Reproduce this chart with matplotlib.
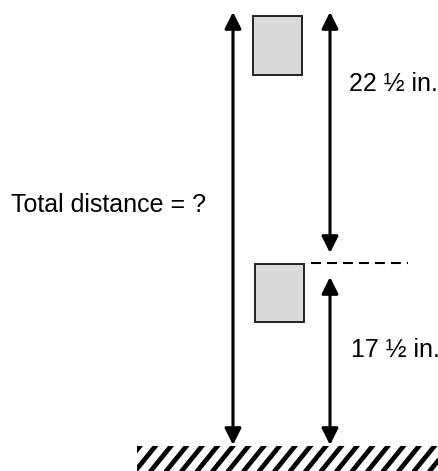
import matplotlib
matplotlib.use("Agg")
import matplotlib.pyplot as plt
import numpy as np
from matplotlib.patches import Rectangle, FancyArrowPatch

# Diagram content
labels = ["22 \u00bd in.", "17 \u00bd in.", "Total distance = ?"]
distances_in = [22.5, 17.5]

# Layout (pixel-like coordinates, y downward)
W, H = 439, 471
top_y = 12
mid_y = 263
ground_y = 446
left_x = 233
right_x = 330

plt.rcParams['font.family'] = ['Liberation Sans', 'DejaVu Sans']
plt.rcParams['lines.scale_dashes'] = False

fig = plt.figure(figsize=(W / 100, H / 100), dpi=100)
ax = fig.add_axes([0, 0, 1, 1])
ax.set_xlim(0, W)
ax.set_ylim(H, 0)
ax.axis('off')

def arrow(x0, y0, x1, y1, style):
    a = FancyArrowPatch((x0, y0), (x1, y1),
                        arrowstyle=style + ",head_length=1.0,head_width=0.5",
                        mutation_scale=10, lw=2.2, color='black',
                        shrinkA=0, shrinkB=0, zorder=3)
    ax.add_patch(a)

# Total distance arrow
arrow(left_x, ground_y - 1, left_x, top_y, '<|-|>')
# 22 1/2 arrow
arrow(right_x, top_y, right_x, mid_y - 10, '<|-|>')
# 17 1/2 arrow
arrow(right_x, mid_y + 14, right_x, ground_y - 1, '<|-|>')

# boxes
ax.add_patch(Rectangle((253, 16), 49, 59, facecolor='#d9d9d9',
                       edgecolor='#222222', lw=1.4))
ax.add_patch(Rectangle((255, 264), 49, 58, facecolor='#d9d9d9',
                       edgecolor='#222222', lw=1.4))

# dashed line
ax.plot([311, 408], [mid_y, mid_y], color='black', lw=1.5,
        dashes=(7.2, 4.3))

# ground (diagonal stripes clipped to a strip)
ground = Rectangle((137, ground_y), W - 137, H - ground_y,
                   facecolor='white', edgecolor='none', lw=0)
ax.add_patch(ground)
spacing = 15.5
shift = (H - ground_y) / np.tan(np.radians(51))
for xt in np.arange(left_x - 8 * spacing, W + 2 * spacing, spacing):
    ln, = ax.plot([xt - shift - 5, xt + 5], [H + 5 * (H - ground_y) / shift, ground_y - 5 * (H - ground_y) / shift],
                  color='black', lw=3.4, solid_capstyle='butt', zorder=2)
    ln.set_clip_path(ground)

# texts
ax.text(349, 84, labels[0], fontsize=18, va='center', ha='left')
ax.text(351, 350, labels[1], fontsize=18, va='center', ha='left')
ax.text(11, 205, labels[2], fontsize=18, va='center', ha='left')

fig.savefig('out.png', dpi=100)
